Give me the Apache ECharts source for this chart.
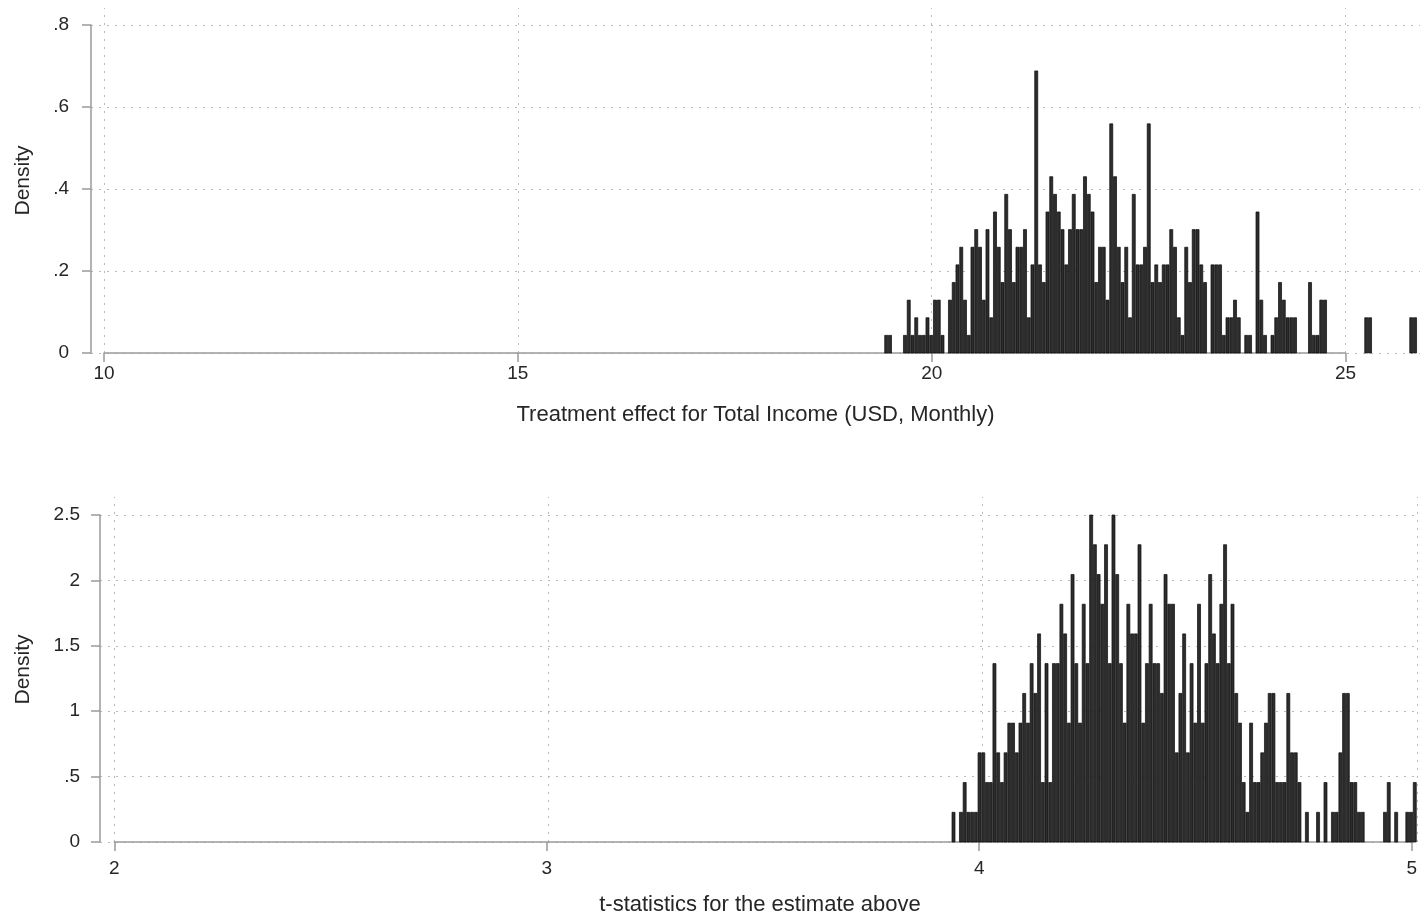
<!DOCTYPE html>
<html>
<head>
<meta charset="utf-8">
<script src="https://cdn.jsdelivr.net/npm/echarts@6.0.0/dist/echarts.min.js"></script>
<style>
  html, body { margin: 0; padding: 0; background: #fff; }
  #chart { width: 1420px; height: 921px; }
</style>
</head>
<body>
<div id="chart"></div>
<script>
// ---------------- DATA ----------------
// Top histogram: treatment effect (bins start at topBinStart, width topBinWidth)
const topBinStart = 19.428;
const topBinWidth = 0.04531;
const topDensity = [
  .043,.043,0,0,0,.043,.129,.043,.086,.043,
  .043,.086,.043,.129,.129,.043,0,.129,.172,.215,
  .258,.129,.043,.258,.301,.258,.129,.301,.086,.344,
  .258,.172,.387,.301,.172,.258,.258,.301,.086,.215,
  .688,.215,.172,.344,.430,.387,.344,.301,.215,.301,
  .387,.301,.301,.430,.387,.344,.172,.258,.258,.129,
  .559,.430,.258,.172,.258,.086,.387,.215,.215,.258,
  .559,.172,.215,.172,.215,.215,.301,.258,.086,.043,
  .258,.172,.301,.301,.215,.172,0,.215,.215,.215,
  .043,.086,.086,.129,.086,0,.043,.043,0,.344,
  .129,.043,0,.043,.086,.172,.129,.086,.086,.086,
  0,0,0,.172,.043,.043,.129,.129,0,0,
  0,0,0,0,0,0,0,0,.086,.086,
  0,0,0,0,0,0,0,0,0,0,
  .086,.086
];
const topXTicks = [10, 15, 20, 25];
const topYTicks = [0, 0.2, 0.4, 0.6, 0.8];
const topXTitle = 'Treatment effect for Total Income (USD, Monthly)';

// Bottom histogram: t-statistics
const botBinStart = 3.9285;
const botBinWidth = 0.008567;
const botDensity = [
  .227,0,.227,.455,.227,.227,.227,.682,.682,.455,
  .455,1.364,.682,.455,.682,.909,.909,.682,.909,1.136,
  .909,1.364,1.136,1.591,.455,1.364,.455,1.364,1.364,1.818,
  1.591,.909,2.045,1.364,.909,1.818,1.364,2.5,2.273,2.045,
  1.818,2.273,1.364,2.5,2.045,1.364,.909,1.818,1.591,1.591,
  2.273,.909,1.364,1.818,1.364,1.364,1.136,2.045,1.818,1.818,
  .682,1.136,1.591,.682,1.364,.909,1.818,.909,1.364,2.045,
  1.591,1.364,1.818,2.273,1.364,1.818,1.136,.909,.455,.227,
  .909,.455,.455,.682,.909,1.136,1.136,.455,.455,.455,
  1.136,.682,.682,.455,0,.227,0,0,.227,0,
  .455,0,.227,.227,.682,1.136,1.136,.455,.455,.227,
  .227,0,0,0,0,0,.227,.455,0,.227,
  0,0,.227,.227,.455
];
const botXTicks = [2, 3, 4, 5];
const botYTicks = [0, 0.5, 1, 1.5, 2, 2.5];
const botXTitle = 't-statistics for the estimate above';
const yTitle = 'Density';

// ---------------- STYLE ----------------
const FONT = '"Liberation Sans Narrow", "Arial Narrow", "Liberation Sans", Arial, sans-serif';
const AXIS_COLOR = '#9a9a9a';
const TEXT_COLOR = '#262626';
const GRID_LINE = { color: '#b8b8b8', width: 1, type: [2, 6] };

function binsToData(start, width, dens) {
  const out = [];
  dens.forEach((d, i) => { if (d > 0) out.push([start + i * width, start + (i + 1) * width, d]); });
  return out;
}
function fmtStata(v) {
  if (v === 0) return '0';
  let s = String(Math.round(v * 1000) / 1000);
  return s.replace(/^0\./, '.');
}
function renderBar(params, api) {
  const p0 = api.coord([api.value(0), api.value(2)]);
  const p1 = api.coord([api.value(1), 0]);
  return {
    type: 'rect',
    shape: { x: p0[0] + 0.35, y: p0[1], width: Math.max(0.5, p1[0] - p0[0] - 0.7), height: p1[1] - p0[1] },
    style: { fill: '#2d2d2d', stroke: '#0c0c0c', lineWidth: 0.7 }
  };
}
function gridLines(xt, yt) {
  return {
    silent: true, symbol: 'none', animation: false, z: 3,
    label: { show: false },
    lineStyle: GRID_LINE,
    data: xt.map(v => ({ xAxis: v })).concat(yt.map(v => ({ yAxis: v })))
  };
}

// layout (pixels)
const T = { left: 91, x0px: 104, pxPerX: 82.77, top: 8, base: 353, yTopPx: 25 };
const B = { left: 100, x0px: 114.3, pxPerX: 434.2, top: 497, base: 842, yTopPx: 515 };
const W = 1420, H = 921;

function mainRange(L, ticks) {
  const min = ticks[0] - (L.x0px - L.left) / L.pxPerX;
  const max = ticks[0] + (W - L.x0px) / L.pxPerX;
  return [min, max];
}
function yMax(L, yt) {
  const top = yt[yt.length - 1];
  return top * (L.base - L.top) / (L.base - L.yTopPx);
}
const tR = mainRange(T, topXTicks), bR = mainRange(B, botXTicks);
const tXEndPx = T.x0px + (topXTicks[topXTicks.length - 1] - topXTicks[0]) * T.pxPerX;
const bXEndPx = B.x0px + (botXTicks[botXTicks.length - 1] - botXTicks[0]) * B.pxPerX;

const nameStyle = { fontFamily: FONT, fontSize: 22, color: TEXT_COLOR };
const yNameStyle = { fontFamily: FONT, fontSize: 21, color: TEXT_COLOR };
const labelStyle = { fontFamily: FONT, fontSize: 19, color: TEXT_COLOR };
const hiddenAxis = { show: false, min: 0, max: 1 };

const option = {
  animation: false,
  backgroundColor: '#fff',
  grid: [
    { left: T.left, right: 0, top: T.top, bottom: H - T.base },                   // 0 main top
    { left: T.left, right: 0, top: T.yTopPx, bottom: H - T.base },                // 1 y axis top
    { left: T.x0px, right: W - tXEndPx, top: T.top, bottom: H - T.base },        // 2 x axis top
    { left: B.left, right: 0, top: B.top, bottom: H - B.base },                   // 3 main bottom
    { left: B.left, right: 0, top: B.yTopPx, bottom: H - B.base },                // 4 y axis bottom
    { left: B.x0px, right: W - bXEndPx, top: B.top, bottom: H - B.base }         // 5 x axis bottom
  ],
  xAxis: [
    { gridIndex: 0, type: 'value', min: tR[0], max: tR[1],
      axisLine: { show: false }, axisTick: { show: false }, axisLabel: { show: false }, splitLine: { show: false },
      name: topXTitle, nameLocation: 'middle', nameGap: 51, nameTextStyle: nameStyle },
    Object.assign({ gridIndex: 1, type: 'value' }, hiddenAxis),
    { gridIndex: 2, type: 'value', min: topXTicks[0], max: topXTicks[topXTicks.length - 1], interval: 5, z: 6,
      axisLine: { show: true, onZero: false, lineStyle: { color: AXIS_COLOR, width: 1.5 } },
      axisTick: { show: true, length: 9, lineStyle: { color: AXIS_COLOR, width: 1.5 } },
      axisLabel: Object.assign({ margin: 11 }, labelStyle),
      splitLine: { show: false } },
    { gridIndex: 3, type: 'value', min: bR[0], max: bR[1],
      axisLine: { show: false }, axisTick: { show: false }, axisLabel: { show: false }, splitLine: { show: false },
      name: botXTitle, nameLocation: 'middle', nameGap: 52, nameTextStyle: nameStyle },
    Object.assign({ gridIndex: 4, type: 'value' }, hiddenAxis),
    { gridIndex: 5, type: 'value', min: botXTicks[0], max: botXTicks[botXTicks.length - 1], interval: 1, z: 6,
      axisLine: { show: true, onZero: false, lineStyle: { color: AXIS_COLOR, width: 1.5 } },
      axisTick: { show: true, length: 9, lineStyle: { color: AXIS_COLOR, width: 1.5 } },
      axisLabel: Object.assign({ margin: 17 }, labelStyle),
      splitLine: { show: false } }
  ],
  yAxis: [
    { gridIndex: 0, type: 'value', min: 0, max: yMax(T, topYTicks),
      axisLine: { show: false }, axisTick: { show: false }, axisLabel: { show: false }, splitLine: { show: false },
      name: yTitle, nameLocation: 'middle', nameGap: 57, nameRotate: 90, nameTextStyle: yNameStyle },
    { gridIndex: 1, type: 'value', min: 0, max: topYTicks[topYTicks.length - 1], interval: 0.2, offset: T.left - 86, z: 6,
      axisLine: { show: true, lineStyle: { color: AXIS_COLOR, width: 1.5 } },
      axisTick: { show: true, length: 9, lineStyle: { color: AXIS_COLOR, width: 1.5 } },
      axisLabel: Object.assign({ margin: 17, formatter: fmtStata }, labelStyle),
      splitLine: { show: false } },
    Object.assign({ gridIndex: 2, type: 'value' }, hiddenAxis),
    { gridIndex: 3, type: 'value', min: 0, max: yMax(B, botYTicks),
      axisLine: { show: false }, axisTick: { show: false }, axisLabel: { show: false }, splitLine: { show: false },
      name: yTitle, nameLocation: 'middle', nameGap: 66, nameRotate: 90, nameTextStyle: yNameStyle },
    { gridIndex: 4, type: 'value', min: 0, max: botYTicks[botYTicks.length - 1], interval: 0.5, offset: B.left - 96, z: 6,
      axisLine: { show: true, lineStyle: { color: AXIS_COLOR, width: 1.5 } },
      axisTick: { show: true, length: 9, lineStyle: { color: AXIS_COLOR, width: 1.5 } },
      axisLabel: Object.assign({ margin: 16, formatter: fmtStata }, labelStyle),
      splitLine: { show: false } },
    Object.assign({ gridIndex: 5, type: 'value' }, hiddenAxis)
  ],
  series: [
    { type: 'line', xAxisIndex: 0, yAxisIndex: 0, data: [], silent: true, z: 1,
      markLine: gridLines(topXTicks, topYTicks) },
    { type: 'custom', xAxisIndex: 0, yAxisIndex: 0, z: 10, silent: true,
      renderItem: renderBar, encode: { x: [0, 1], y: 2 },
      data: binsToData(topBinStart, topBinWidth, topDensity) },
    { type: 'line', xAxisIndex: 3, yAxisIndex: 3, data: [], silent: true, z: 1,
      markLine: gridLines(botXTicks, botYTicks) },
    { type: 'custom', xAxisIndex: 3, yAxisIndex: 3, z: 10, silent: true,
      renderItem: renderBar, encode: { x: [0, 1], y: 2 },
      data: binsToData(botBinStart, botBinWidth, botDensity) }
  ]
};

const chart = echarts.init(document.getElementById('chart'), null, { renderer: 'canvas' });
chart.setOption(option);
</script>
</body>
</html>
